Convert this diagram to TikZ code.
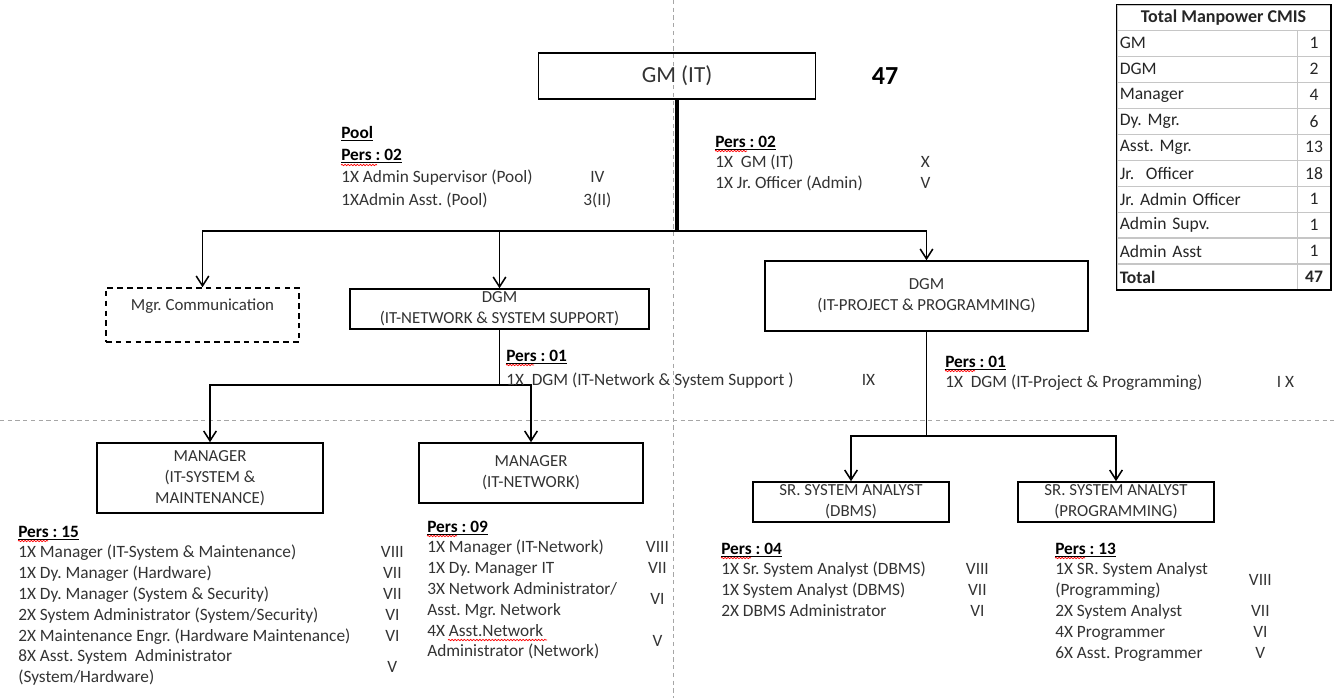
\documentclass[tikz,border=0pt]{standalone}
\usepackage{fontspec}
\setmainfont{Carlito}
\usepackage{array}
\usepackage{tikz}
\usetikzlibrary{arrows.meta,decorations.pathmorphing,fit,positioning}
\pgfdeclarelayer{edgelayer}
\pgfdeclarelayer{nodelayer}
\pgfsetlayers{edgelayer,nodelayer,main}
\tikzstyle{orgbox}=[rectangle, draw=black, line width=1.1pt, align=center, text=black!80, inner sep=0pt, font=\fontsize{12}{14.8}\selectfont]
\tikzstyle{vacantbox}=[orgbox, dash pattern=on 4pt off 3pt]
\tikzstyle{link}=[-, draw=black, line width=1.1pt]
\tikzstyle{trunk}=[-, draw=black, line width=2.2pt]
\tikzstyle{feed}=[-{Straight Barb[length=7pt,width=9pt]}, draw=black, line width=1.1pt]
\tikzstyle{guide}=[-, draw=gray!70, dash pattern=on 3pt off 2.5pt, line width=0.7pt]
\tikzstyle{roster}=[inner sep=0pt, anchor=base west, text=black!80, font=\fontsize{12.3}{14.8}\selectfont]
\tikzstyle{spell}=[draw=red, line width=0.5pt, decorate, decoration={snake, amplitude=0.5pt, segment length=2.2pt}]
\tikzstyle{cellhead}=[rectangle, draw=gray!45, minimum width=5.325cm, minimum height=0.625cm, inner sep=0pt, text=black!85, font=\fontsize{12.8}{15}\selectfont\bfseries]
\tikzstyle{cellname}=[rectangle, draw=gray!45, minimum height=0.635cm, inner ysep=0pt, inner xsep=2pt, text width=4.359cm, align=left, text=black!85, font=\fontsize{12.5}{15}\selectfont]
\tikzstyle{cellnum}=[rectangle, draw=gray!45, minimum width=0.825cm, minimum height=0.635cm, inner sep=0pt, text=black!85, font=\fontsize{12.5}{15}\selectfont]
\newcolumntype{G}{>{\centering\arraybackslash}p{28.5pt}}
\newcommand{\midgrade}[1]{\smash{\raisebox{-0.5\baselineskip}{#1}}}
\newcommand{\perslabel}[1]{\multicolumn{2}{@{}l@{}}{\textcolor{black}{\underline{\textbf{Pers : #1}}}}}

\begin{document}
\frenchspacing
\begin{tikzpicture}[x=0.025cm, y=-0.025cm]
    \useasboundingbox (0,0) rectangle (1334,698);
    \begin{pgfonlayer}{nodelayer}
        \node [style=orgbox, minimum width=6.925cm, minimum height=1.15cm, font=\fontsize{16.4}{19}\selectfont] (gm) at (677, 76) {GM (IT)};
        \node [font=\fontsize{18.5}{22}\selectfont\bfseries] (headcount) at (885, 76) {47};

        \node [style=vacantbox, minimum width=4.825cm, minimum height=1.35cm] (mgrcom) at (202.5, 315) {Mgr. Communication\\ \mbox{}};
        \node [style=orgbox, minimum width=7.475cm, minimum height=1.0cm] (dgmnet) at (499.5, 309) {DGM\\(IT-NETWORK \& SYSTEM SUPPORT)};
        \node [style=orgbox, minimum width=8.075cm, minimum height=1.75cm] (dgmprj) at (926.5, 296) {DGM\\(IT-PROJECT \& PROGRAMMING)};

        \node [style=orgbox, minimum width=5.65cm, minimum height=1.75cm] (mgrsys) at (210, 478) {MANAGER\\(IT-SYSTEM \&\\MAINTENANCE)};
        \node [style=orgbox, minimum width=5.6cm, minimum height=1.5cm] (mgrnet) at (531, 473) {MANAGER\\(IT-NETWORK)};
        \node [style=orgbox, minimum width=4.9cm, minimum height=1.0cm] (sadbms) at (851, 502) {SR. SYSTEM ANALYST\\(DBMS)};
        \node [style=orgbox, minimum width=4.9cm, minimum height=1.0cm] (saprog) at (1116, 502) {SR. SYSTEM ANALYST\\(PROGRAMMING)};

        % staff lists
        \node [style=roster, font=\fontsize{12.3}{15.9}\selectfont] (poolpers) at (341, 138) {\begin{tabular}[t]{@{}p{167.9pt}@{}G@{}}
            \multicolumn{2}{@{}l@{}}{\textcolor{black}{\underline{\textbf{Pool}}}}\\
            \perslabel{02}\\
            1X Admin Supervisor (Pool) & IV\\
            1XAdmin Asst. (Pool) & 3(II)
        \end{tabular}};
        \node [style=roster] (gmpers) at (715, 147) {\begin{tabular}[t]{@{}p{135.2pt}@{}G@{}}
            \perslabel{02}\\
            1X~ GM (IT) & X\\
            1X Jr. Officer (Admin) & V
        \end{tabular}};
        \node [style=roster] (netpers) at (506, 361) {\begin{tabular}[t]{@{}p{243.3pt}@{}G@{}}
            \perslabel{01}\\[2.3pt]
            1X~ DGM (IT-Network \& System Support ) & IX
        \end{tabular}};
        \node [style=roster] (prjpers) at (945, 367) {\begin{tabular}[t]{@{}p{227.6pt}@{}G@{}}
            \perslabel{01}\\
            1X~ DGM (IT-Project \& Programming) & I X
        \end{tabular}};
        \node [style=roster] (syspers) at (18, 537) {\begin{tabular}[t]{@{}p{251.8pt}@{}G@{}}
            \perslabel{15}\\
            1X Manager (IT-System \& Maintenance) & VIII\\
            1X Dy. Manager (Hardware) & VII\\
            1X Dy. Manager (System \& Security) & VII\\
            2X System Administrator (System/Security) & VI\\
            2X Maintenance Engr. (Hardware Maintenance) & VI\\
            8X Asst. System~ Administrator & \midgrade{V}\\
            (System/Hardware) &
        \end{tabular}};
        \node [style=roster] (nwpers) at (427, 532) {\begin{tabular}[t]{@{}p{149.4pt}@{}G@{}}
            \perslabel{09}\\
            1X Manager (IT-Network) & VIII\\
            1X Dy. Manager IT & VII\\
            3X Network Administrator/ & \midgrade{VI}\\
            Asst. Mgr. Network & \\
            4X Asst.Network & \midgrade{V}\\
            Administrator (Network) &
        \end{tabular}};
        \node [style=roster] (dbpers) at (721, 554) {\begin{tabular}[t]{@{}p{167.9pt}@{}G@{}}
            \perslabel{04}\\
            1X Sr. System Analyst (DBMS) & VIII\\
            1X System Analyst (DBMS) & VII\\
            2X DBMS Administrator & VI
        \end{tabular}};
        \node [style=roster] (pgpers) at (1055, 554) {\begin{tabular}[t]{@{}p{131.6pt}@{}G@{}}
            \perslabel{13}\\
            1X SR. System Analyst & \midgrade{VIII}\\
            (Programming) & \\
            2X System Analyst & VII\\
            4X Programmer & VI\\
            6X Asst. Programmer & V
        \end{tabular}};

        % manpower table
        \node [style=cellhead] (cmishead) at (1223.5, 17.5) {Total Manpower CMIS};
        \node [style=cellname, anchor=north west] (gmrow) at (cmishead.south west) {GM};
        \node [style=cellnum, right=0pt of gmrow] (gmnum) {1};
        \node [style=cellname, below=0pt of gmrow] (dgmrow) {DGM};
        \node [style=cellnum, right=0pt of dgmrow] (dgmnum) {2};
        \node [style=cellname, below=0pt of dgmrow] (mgrrow) {Manager};
        \node [style=cellnum, right=0pt of mgrrow] (mgrnum) {4};
        \node [style=cellname, below=0pt of mgrrow] (dymgrrow) {Dy. Mgr.};
        \node [style=cellnum, right=0pt of dymgrrow] (dymgrnum) {6};
        \node [style=cellname, below=0pt of dymgrrow] (astmgrrow) {Asst. Mgr.};
        \node [style=cellnum, right=0pt of astmgrrow] (astmgrnum) {13};
        \node [style=cellname, below=0pt of astmgrrow] (jrrow) {Jr.~ Officer};
        \node [style=cellnum, right=0pt of jrrow] (jrnum) {18};
        \node [style=cellname, below=0pt of jrrow] (jradmrow) {Jr. Admin Officer};
        \node [style=cellnum, right=0pt of jradmrow] (jradmnum) {1};
        \node [style=cellname, below=0pt of jradmrow] (suprow) {Admin Supv.};
        \node [style=cellnum, right=0pt of suprow] (supnum) {1};
        \node [style=cellname, below=0pt of suprow] (astrow) {Admin Asst};
        \node [style=cellnum, right=0pt of astrow] (astnum) {1};
        \node [style=cellname, below=0pt of astrow, font=\fontsize{12.5}{15}\selectfont\bfseries] (totalrow) {Total};
        \node [style=cellnum, right=0pt of totalrow, font=\fontsize{12.5}{15}\selectfont\bfseries] (totalnum) {47};
        \node [fit=(cmishead)(totalnum), draw=black, line width=0.9pt, inner sep=0pt] (cmisframe) {};
    \end{pgfonlayer}
    \begin{pgfonlayer}{edgelayer}
        \coordinate (vtop) at (673, 0);
        \coordinate (vbot) at (673, 698);
        \coordinate (hleft) at (0, 420);
        \coordinate (hright) at (1334, 420);
        \draw [style=guide] (vtop) -- (vbot);
        \draw [style=guide] (hleft) -- (hright);

        \coordinate (hub) at (677, 231);
        \coordinate (netfork) at (499.5, 385);
        \coordinate (prjfork) at (926.5, 436);
        \draw [style=trunk] (gm) -- (hub);
        \draw [style=feed] (hub) -| (mgrcom);
        \draw [style=feed] (hub) -| (dgmnet);
        \draw [style=feed] (hub) -| (dgmprj);

        \draw [style=link] (dgmnet) -- (netfork);
        \draw [style=feed] (netfork) -| (mgrsys);
        \draw [style=feed] (netfork) -| (mgrnet);

        \draw [style=link] (dgmprj) -- (prjfork);
        \draw [style=feed] (prjfork) -| (sadbms);
        \draw [style=feed] (prjfork) -| (saprog);

        \draw [line width=1.6pt] (totalrow.north west) -- (totalnum.north east);

        % spelling marks
        \draw [style=spell] ([shift={(0,27)}]poolpers.base west) -- ++(36,0);
        \draw [style=spell] ([shift={(0,4)}]gmpers.base west) -- ++(32,0);
        \draw [style=spell] ([shift={(0,4)}]netpers.base west) -- ++(28,0);
        \draw [style=spell] ([shift={(0,4)}]prjpers.base west) -- ++(30,0);
        \draw [style=spell] ([shift={(0,4)}]syspers.base west) -- ++(30,0);
        \draw [style=spell] ([shift={(0,4)}]nwpers.base west) -- ++(30,0);
        \draw [style=spell] ([shift={(21,108)}]nwpers.base west) -- ++(99,0);
        \draw [style=spell] ([shift={(0,4)}]dbpers.base west) -- ++(30,0);
        \draw [style=spell] ([shift={(0,4)}]pgpers.base west) -- ++(30,0);
    \end{pgfonlayer}
\end{tikzpicture}
\end{document}
